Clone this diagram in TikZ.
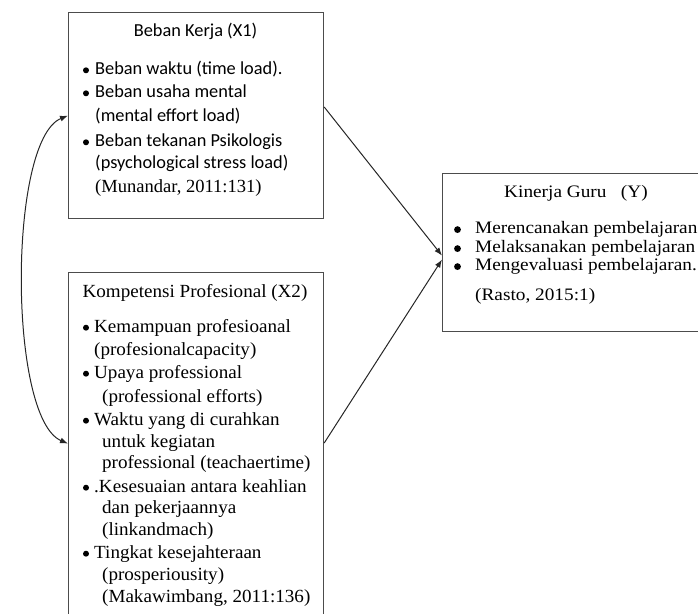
\documentclass[tikz,border=0pt]{standalone}
\usepackage{fontspec}
\setmainfont{Liberation Serif}
\newfontfamily\calfont{Carlito}
\newfontfamily\tnrA[FakeStretch=1.03]{Liberation Serif}
\newfontfamily\tnrB[FakeStretch=1.1]{Liberation Serif}
\usetikzlibrary{arrows.meta}
\newcommand{\bdot}[4]{\fill[black] ([xshift=#2, yshift=#3]#1.base west) circle (#4);}
\tikzset{
  box/.style={draw=black!70, line width=1.2bp, inner sep=0pt, anchor=north west},
  conn/.style={draw=black!85, line width=1bp, -{Latex[length=8bp,width=6bp]}},
  tcal/.style={anchor=base west, inner sep=0pt, font=\calfont\fontsize{18.4}{23}\selectfont},
  tser/.style={anchor=base west, inner sep=0pt, font=\tnrA\fontsize{18.6}{22}\selectfont},
  tmun/.style={anchor=base west, inner sep=0pt, font=\rmfamily\fontsize{18.6}{22}\selectfont},
  tkin/.style={anchor=base west, inner sep=0pt, font=\tnrB\fontsize{17.6}{18}\selectfont},
}
\begin{document}
\begin{tikzpicture}[x=1bp, y=-1bp]
\useasboundingbox (0,0) rectangle (698,614);
% boxes
\node[box, minimum width=255bp, minimum height=206bp] (b1) at (68,12) {};
\node[box, minimum width=255bp, minimum height=350bp] (b2) at (68,272) {};
\node[box, minimum width=262bp, minimum height=158bp] (b3) at (442,173) {};

% box 1 text
\node[tcal, anchor=base] (b1t) at (195.5,37) {Beban Kerja (X1)};
\node[tcal] (b1a) at (95,75) {Beban waktu (time load).};
\node[tcal] (b1b) at (95,98) {Beban usaha mental};
\node[tcal] (b1c) at (95,122) {(mental effort load)};
\node[tcal] (b1d) at (95,147) {Beban tekanan Psikologis};
\node[tcal] (b1e) at (95,169) {(psychological stress load)};
\node[tmun] (b1f) at (95,193) {(Munandar, 2011:131)};
\bdot{b1a}{-9bp}{4.7bp}{3bp}
\bdot{b1b}{-9bp}{4.7bp}{3bp}
\bdot{b1d}{-9bp}{4.7bp}{3bp}

% box 2 text
\node[tser, anchor=base] (b2t) at (195,297) {Kompetensi Profesional (X2)};
\node[tser] (b2a) at (94,332) {Kemampuan profesioanal};
\node[tser] (b2b) at (94,355) {(profesionalcapacity)};
\node[tser] (b2c) at (94,378) {Upaya professional};
\node[tser] (b2d) at (102,402) {(professional efforts)};
\node[tser] (b2e) at (94,425) {Waktu yang di curahkan};
\node[tser] (b2f) at (102,447) {untuk kegiatan};
\node[tser] (b2g) at (102,468) {professional (teachaertime)};
\node[tser] (b2h) at (94,492) {.Kesesuaian antara keahlian};
\node[tser] (b2i) at (102,513) {dan pekerjaannya};
\node[tser] (b2j) at (102,535) {(linkandmach)};
\node[tser] (b2k) at (94,558) {Tingkat kesejahteraan};
\node[tser] (b2l) at (102,580) {(prosperiousity)};
\node[tser] (b2m) at (102,602) {(Makawimbang, 2011:136)};
\bdot{b2a}{-8bp}{4.3bp}{3bp}
\bdot{b2c}{-8bp}{4.3bp}{3bp}
\bdot{b2e}{-8bp}{4.3bp}{3bp}
\bdot{b2h}{-8bp}{4.3bp}{3bp}
\bdot{b2k}{-8bp}{4.3bp}{3bp}

% box 3 text
\node[tkin, anchor=base] (b3t) at (576,198) {Kinerja Guru\ \ \ (Y)};
\node[tkin] (b3a) at (475,233) {Merencanakan pembelajaran};
\node[tkin] (b3b) at (475,252) {Melaksanakan pembelajaran};
\node[tkin] (b3c) at (475,270) {Mengevaluasi pembelajaran.};
\node[tkin] (b3d) at (475,300) {(Rasto, 2015:1)};
\bdot{b3a}{-17.5bp}{3.4bp}{3.4bp}
\bdot{b3b}{-17.5bp}{3.4bp}{3.4bp}
\bdot{b3c}{-17.5bp}{3.4bp}{3.4bp}

% connectors
\coordinate (a1s) at ([yshift=-95bp]b1.north east);
\coordinate (a2s) at ([yshift=-171bp]b2.north east);
\coordinate (a1e) at ([yshift=-3bp]b3.west);
\coordinate (a2e) at ([yshift=-7bp]b3.west);
\coordinate (c2) at ([yshift=4bp]b2.west);
\draw[conn] (a1s) -- (a1e);
\draw[conn] (a2s) -- (a2e);
\draw[conn, {Latex[length=8bp,width=6bp]}-{Latex[length=8bp,width=6bp]}]
  (b1.west) .. controls (8,140) and (8,418) .. (c2);
\end{tikzpicture}
\end{document}
